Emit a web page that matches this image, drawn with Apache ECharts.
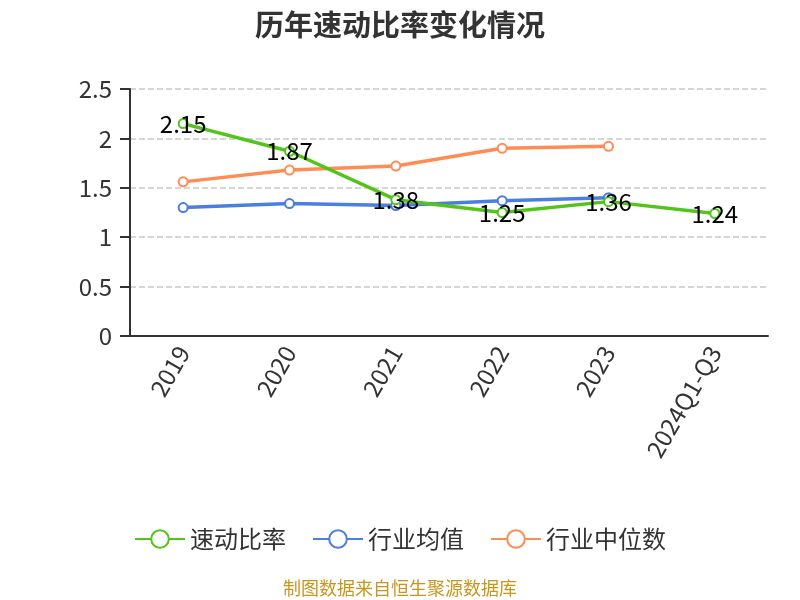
<!DOCTYPE html>
<html><head><meta charset="utf-8">
<script src="https://cdn.jsdelivr.net/npm/echarts@6/dist/echarts.min.js"></script>
<style>html,body{margin:0;padding:0;background:#fff}#c{width:800px;height:600px}</style>
</head><body><div id="c"></div>
<script>
const categories = ['2019','2020','2021','2022','2023','2024Q1-Q3'];
const quickRatio = [2.15, 1.87, 1.38, 1.25, 1.36, 1.24];
const industryMean = [1.30, 1.34, 1.32, 1.37, 1.40, null];
const industryMedian = [1.56, 1.68, 1.72, 1.90, 1.92, null];
const seriesNames = ['速动比率','行业均值','行业中位数'];

const chart = echarts.init(document.getElementById('c'));
const font = '"Microsoft YaHei","Noto Sans CJK SC","Noto Sans",sans-serif';
chart.setOption({
  animation: false,
  textStyle: {fontFamily: font},
  title: {text: '历年速动比率变化情况', left: 'center', top: 5,
    textStyle: {fontSize: 29, fontWeight: 'bold', color: '#333', fontFamily: font}},
  legend: {top: 522, itemWidth: 50, itemHeight: 22, itemGap: 26,
    textStyle: {fontSize: 24, color: '#333', fontFamily: font},
    data: seriesNames},
  graphic: [{type: 'text', left: 'center', top: 579,
    style: {text: '制图数据来自恒生聚源数据库', fill: '#c8961e', fontSize: 18, fontFamily: font}}],
  grid: {left: 130, right: 32, top: 89, bottom: 264},
  xAxis: {type: 'category', data: categories, boundaryGap: true,
    axisLine: {lineStyle: {color: '#333', width: 2}},
    axisTick: {lineStyle: {color: '#333', width: 2}, length: 9},
    axisLabel: {rotate: 60, fontSize: 24, color: '#333', margin: 12, fontFamily: font}},
  yAxis: {type: 'value', min: 0, max: 2.5, interval: 0.5,
    axisLine: {show: true, lineStyle: {color: '#333', width: 2}},
    axisTick: {show: true, lineStyle: {color: '#333', width: 2}, length: 10},
    axisLabel: {fontSize: 24, color: '#333', margin: 18, fontFamily: font},
    splitLine: {lineStyle: {type: 'dashed', color: '#c8c8c8', width: 1.5}}},
  series: [
    {name: seriesNames[0], type: 'line', data: quickRatio, symbol: 'emptyCircle', symbolSize: 9,
      itemStyle: {color: '#52c41a'}, lineStyle: {width: 3.5, color: '#52c41a'},
      label: {show: true, position: 'inside', fontSize: 24, color: '#000', fontFamily: font}, z: 3},
    {name: seriesNames[1], type: 'line', data: industryMean, symbol: 'emptyCircle', symbolSize: 9,
      itemStyle: {color: '#4a7ee0'}, lineStyle: {width: 3.5, color: '#4a7ee0'}, z: 2},
    {name: seriesNames[2], type: 'line', data: industryMedian, symbol: 'emptyCircle', symbolSize: 9,
      itemStyle: {color: '#ff8c55'}, lineStyle: {width: 3.5, color: '#ff8c55'}, z: 2}
  ]
});
</script></body></html>
